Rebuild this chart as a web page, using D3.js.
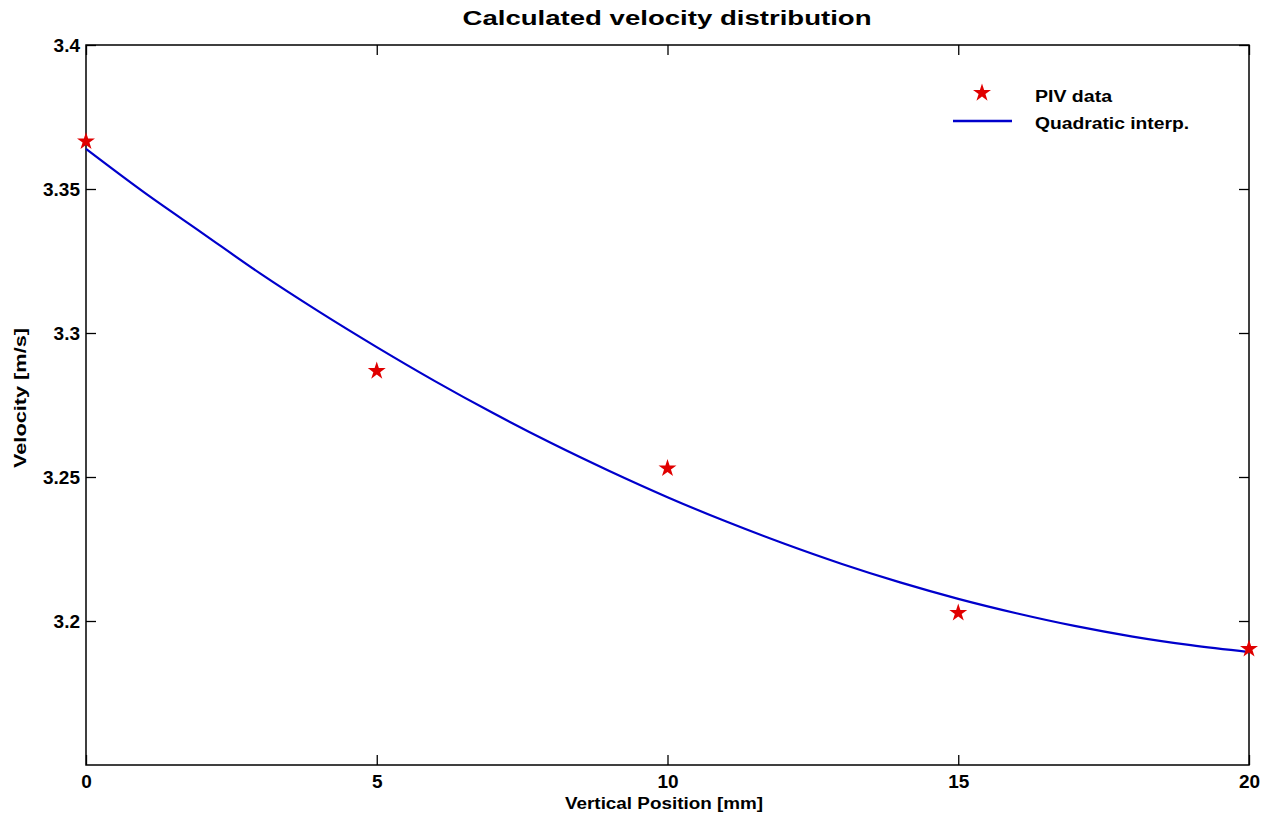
<!DOCTYPE html>
<html>
<head>
<meta charset="utf-8">
<script src="https://cdn.jsdelivr.net/npm/d3@7"></script>
<style>
  body { margin: 0; background: #fff; }
  text { font-family: "Liberation Sans", Arial, sans-serif; font-weight: bold; fill: #000; }
</style>
</head>
<body>
<svg id="chart" width="1263" height="822"></svg>
<script>
var pivX = [0, 5, 10, 15, 20];
var pivV = [3.3665, 3.2868, 3.2530, 3.2028, 3.1903];

// quadratic curve at each mm
var fitX = [0, 1, 2, 3, 4, 5, 6, 7, 8, 9, 10, 11, 12, 13, 14, 15, 16, 17, 18, 19, 20];
var fitV = [3.3639, 3.3488, 3.3347, 3.3206, 3.3075, 3.2951, 3.2833, 3.2722, 3.2618, 3.2521, 3.2430,
            3.2346, 3.2269, 3.2198, 3.2134, 3.2077, 3.2027, 3.1983, 3.1946, 3.1916, 3.1892];

var xTicks = [0, 5, 10, 15, 20];
var yTicks = [3.2, 3.25, 3.3, 3.35, 3.4];
var yTickLabels = ['3.2', '3.25', '3.3', '3.35', '3.4'];

(function() {
  // plot box edges
  var pl = 86, pt = 45, pr = 1249, pb = 765;

  var svg = d3.select('#chart');

  var x = d3.scaleLinear().domain([0, 20]).range([pl, pr]);
  var y = d3.scaleLinear().domain([3.15, 3.4]).range([pb, pt]);

  // box around plot area
  svg.append('rect')
    .attr('x', pl).attr('y', pt)
    .attr('width', pr - pl).attr('height', pb - pt)
    .attr('fill', 'none').attr('stroke', '#000').attr('stroke-width', 1.5);

  // ticks point inward on all four sides
  svg.append('g')
    .attr('transform', 'translate(0,' + pb + ')')
    .call(d3.axisBottom(x).tickValues(xTicks).tickSizeInner(-10).tickSizeOuter(0).tickPadding(10));
  var topAxis = svg.append('g')
    .attr('transform', 'translate(0,' + pt + ')')
    .call(d3.axisTop(x).tickValues(xTicks).tickSizeInner(-10).tickSizeOuter(0));
  topAxis.selectAll('text').remove();

  svg.append('g')
    .attr('transform', 'translate(' + pl + ',0)')
    .call(d3.axisLeft(y).tickValues(yTicks).tickSizeInner(-10).tickSizeOuter(0).tickPadding(6)
      .tickFormat(function(d, i) { return yTickLabels[i]; }));
  var rightAxis = svg.append('g')
    .attr('transform', 'translate(' + pr + ',0)')
    .call(d3.axisRight(y).tickValues(yTicks).tickSizeInner(-10).tickSizeOuter(0));
  rightAxis.selectAll('text').remove();

  svg.selectAll('.domain').remove();
  svg.selectAll('.tick line').attr('stroke', '#000').attr('stroke-width', 1.3);
  svg.selectAll('.tick text')
    .style('font-family', '"Liberation Sans", Arial, sans-serif')
    .style('font-weight', 'bold')
    .style('font-size', '19px');

  // the fit line
  var line = d3.line()
    .x(function(d) { return x(d[0]); })
    .y(function(d) { return y(d[1]); })
    .curve(d3.curveMonotoneX);

  svg.append('path')
    .datum(d3.zip(fitX, fitV))
    .attr('d', line)
    .attr('fill', 'none')
    .attr('stroke', '#0000cc')
    .attr('stroke-width', 2.2);

  // stars
  var star = d3.symbol().type(d3.symbolStar).size(100);
  svg.selectAll('.piv')
    .data(d3.zip(pivX, pivV))
    .enter().append('path')
    .attr('class', 'piv')
    .attr('d', star)
    .attr('transform', function(d) { return 'translate(' + x(d[0]) + ',' + y(d[1]) + ')'; })
    .attr('fill', '#e00000');

  // title and axis labels (old matlab font is wider, so stretch to the measured widths)
  svg.append('text')
    .attr('x', 667).attr('y', 25)
    .attr('text-anchor', 'middle')
    .attr('textLength', 409).attr('lengthAdjust', 'spacingAndGlyphs')
    .style('font-size', '20px')
    .text('Calculated velocity distribution');

  svg.append('text')
    .attr('x', 664).attr('y', 809)
    .attr('text-anchor', 'middle')
    .attr('textLength', 198).attr('lengthAdjust', 'spacingAndGlyphs')
    .style('font-size', '16px')
    .text('Vertical Position [mm]');

  svg.append('text')
    .attr('transform', 'translate(26,398) rotate(-90)')
    .attr('text-anchor', 'middle')
    .attr('textLength', 140).attr('lengthAdjust', 'spacingAndGlyphs')
    .style('font-size', '16px')
    .text('Velocity [m/s]');

  // legend (no border)
  var legend = svg.append('g');
  legend.append('path')
    .attr('d', star)
    .attr('transform', 'translate(982,93)')
    .attr('fill', '#e00000');
  legend.append('line')
    .attr('x1', 953).attr('x2', 1012)
    .attr('y1', 121).attr('y2', 121)
    .attr('stroke', '#0000cc').attr('stroke-width', 2.5);
  legend.append('text')
    .attr('x', 1035).attr('y', 102)
    .attr('textLength', 77).attr('lengthAdjust', 'spacingAndGlyphs')
    .style('font-size', '16px')
    .text('PIV data');
  legend.append('text')
    .attr('x', 1035).attr('y', 129)
    .attr('textLength', 154).attr('lengthAdjust', 'spacingAndGlyphs')
    .style('font-size', '16px')
    .text('Quadratic interp.');
})();
</script>
</body>
</html>
